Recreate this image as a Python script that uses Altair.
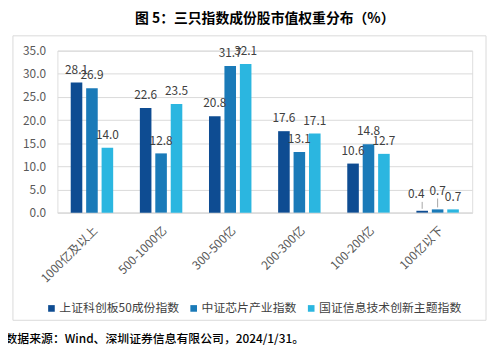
import altair as alt
import pandas as pd

categories = ['1000亿及以上', '500-1000亿', '300-500亿', '200-300亿', '100-200亿', '100亿以下']
series = ['上证科创板50成份指数', '中证芯片产业指数', '国证信息技术创新主题指数']
s1 = [28.1, 22.6, 20.8, 17.6, 10.6, 0.4]
s2 = [26.9, 12.8, 31.7, 13.1, 14.8, 0.7]
s3 = [14.0, 23.5, 32.1, 17.1, 12.7, 0.7]
colors = ['#0E4C92', '#1A7AB8', '#2BB6E0']
title = '图 5：三只指数成份股市值权重分布（%）'
source = '数据来源：Wind、深圳证券信息有限公司，2024/1/31。'
y_ticks = [0, 5, 10, 15, 20, 25, 30, 35]

rows = []
for name, vals in zip(series, [s1, s2, s3]):
    for c, v in zip(categories, vals):
        rows.append({'cat': c, 'series': name, 'value': v})
df = pd.DataFrame(rows)

FONT = 'Noto Sans CJK SC'

x_enc = alt.X('cat:N', sort=categories,
              scale=alt.Scale(paddingInner=0.386, paddingOuter=0.193),
              axis=alt.Axis(title=source, labelAngle=-45, labelFontSize=12,
                            labelColor='#595959', labelFont=FONT, ticks=False,
                            domainColor='#d9d9d9', labelPadding=12,
                            titleX=-53, titleY=132, titleAlign='left',
                            titleAnchor='start', titleBaseline='alphabetic',
                            titleFontSize=12, titleFontWeight=500,
                            titleColor='#000000', titleFont=FONT, titleLimit=600))
xo_enc = alt.XOffset('series:N', sort=series,
                     scale=alt.Scale(paddingInner=0.25, paddingOuter=0))
y_enc = alt.Y('value:Q', scale=alt.Scale(domain=[0, 35], nice=False),
              axis=alt.Axis(title=None, values=y_ticks, format='.1f',
                            labelFontSize=12, labelColor='#595959', labelFont=FONT,
                            ticks=False, domain=False, gridColor='#d9d9d9',
                            labelPadding=12, labelOverlap=False))
color_enc = alt.Color('series:N', sort=series,
                      scale=alt.Scale(domain=series, range=colors),
                      legend=alt.Legend(title=None, orient='none', direction='horizontal',
                                        legendX=-12, legendY=255, symbolType='square',
                                        symbolSize=45, labelFontSize=12, labelFont=FONT,
                                        labelColor='#404040', columnPadding=8,
                                        labelOffset=2))

base = alt.Chart(df)
bars = base.mark_bar().encode(x=x_enc, xOffset=xo_enc, y=y_enc, color=color_enc)

last = alt.datum.cat == '100亿以下'
sp_dark = last & (alt.datum.series == series[0])
sp_mid = last & (alt.datum.series == series[1])
special = sp_dark | sp_mid

def label_layer(flt, dy, dx=0):
    return base.mark_text(baseline='alphabetic', dy=dy, dx=dx, fontSize=12, font=FONT,
                          color='#404040').encode(
        x=x_enc, xOffset=xo_enc, y=y_enc, text=alt.Text('value:Q', format='.1f')
    ).transform_filter(flt)

labels = label_layer(~special, -9)
labels_dark = label_layer(sp_dark, -13, -6)
labels_mid = label_layer(sp_mid, -15)

lead_dark = base.mark_rule(color='#a6a6a6', strokeWidth=1, y2Offset=-9, yOffset=-2,
                           xOffset=-3).encode(
    x=x_enc, xOffset=xo_enc, y=y_enc, y2='value:Q'
).transform_filter(sp_dark)
lead_mid = base.mark_rule(color='#a6a6a6', strokeWidth=1, y2Offset=-11, yOffset=-2).encode(
    x=x_enc, xOffset=xo_enc, y=y_enc, y2='value:Q'
).transform_filter(sp_mid)

frame = alt.Chart(pd.DataFrame({'a': [0]})).mark_rect(
    fill=None, stroke='#d9d9d9', strokeWidth=1).encode(
    x=alt.value(-45), x2=alt.value(434), y=alt.value(-15), y2=alt.value(273))

chart = alt.layer(frame, bars, lead_dark, lead_mid, labels, labels_dark, labels_mid).properties(
    width=420, height=164,
    title=alt.TitleParams(title, fontSize=14, fontWeight='bold', font=FONT,
                          color='#000000', anchor='middle', offset=9),
    autosize=alt.AutoSizeParams(type='none'),
    padding={'left': 50, 'top': 41, 'right': 15, 'bottom': 145}
).configure_view(stroke=None).configure(background='white')

chart.save('out.html', embed_options={'renderer': 'svg', 'actions': False})
